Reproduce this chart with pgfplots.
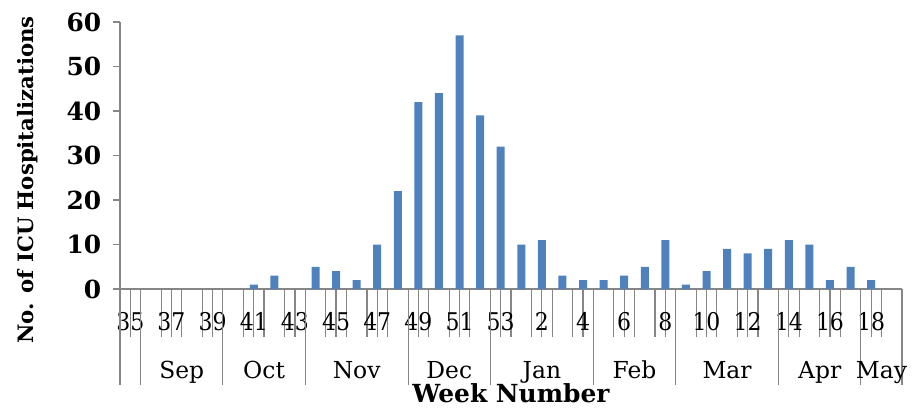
\documentclass[border=0pt]{standalone}
\usepackage{fontspec}
\setmainfont{DejaVu Serif Condensed}
\newfontfamily\wideserif{DejaVu Serif}
\usepackage{pgfplots}
\pgfplotsset{compat=1.18}
\usepackage{pgfplotstable}

\definecolor{barblue}{HTML}{4F81BD}
\definecolor{axisgray}{HTML}{868686}

% week index (0 = week 35), ICU hospitalizations
\pgfplotstableread{
idx val
0 0
1 0
2 0
3 0
4 0
5 0
6 1
7 3
8 0
9 5
10 4
11 2
12 10
13 22
14 42
15 44
16 57
17 39
18 32
19 10
20 11
21 3
22 2
23 2
24 3
25 5
26 11
27 1
28 4
29 9
30 8
31 9
32 11
33 10
34 2
35 5
36 2
37 0
}\icudata

\begin{document}
\begin{tikzpicture}
\useasboundingbox (0,0) rectangle (921bp,-408bp);
\begin{axis}[
  at={(120bp,-289bp)}, anchor=south west,
  scale only axis, width=782bp, height=267bp,
  xmin=-0.5, xmax=37.5, ymin=0, ymax=60,
  clip=false,
  axis x line=bottom, axis y line=left,
  axis line style={-, draw=axisgray, line width=1.2pt},
  tick style={draw=axisgray, line width=1.2pt},
  tick align=outside,
  /pgf/number format/assume math mode=true,
  xtick={-0.5,0.5,...,37.5},
  xticklabels={},
  xtick style={/pgfplots/major tick length=48bp},
  ytick={0,10,...,60},
  ytick style={/pgfplots/major tick length=7bp},
  yticklabel style={font=\wideserif\bfseries\fontsize{25}{25}\selectfont, xshift=-11bp},
  extra x ticks={0,2,...,36},
  extra x tick labels={35,37,39,41,43,45,47,49,51,53,2,4,6,8,10,12,14,16,18},
  extra x tick style={/pgfplots/major tick length=0pt,
    tick label style={font=\fontsize{24.5}{24.5}\selectfont, yshift=-20bp}},
  ybar, bar width=8bp,
]
\addplot[fill=barblue, draw=none] table[x=idx, y=val] {\icudata};

% month separators
\pgfplotsinvokeforeach{-0.5,0.5,4.5,8.5,13.5,17.5,22.5,26.5,31.5,35.5,37.5}{
  \draw[axisgray, line width=1.2pt] (axis cs:#1,0) -- ([yshift=-96bp]axis cs:#1,0);
}
% month names
\foreach \mx/\mn in {2.5/Sep,6.5/Oct,11/Nov,15.5/Dec,20/Jan,24.5/Feb,29/Mar,33.5/Apr,36.5/May}{
  \edef\tmp{\noexpand\node[anchor=base, font=\noexpand\wideserif\noexpand\fontsize{23.5}{23.5}\noexpand\selectfont, yshift=-89bp] at (axis cs:\mx,0) {\mn};}
  \tmp
}
\node[anchor=base, font=\wideserif\bfseries\fontsize{25}{25}\selectfont, yshift=-113bp]
  at (axis cs:18.5,0) {Week Number};
\end{axis}
\node[rotate=90, font=\wideserif\bfseries\fontsize{21.3}{21.3}\selectfont] at (28bp,-180bp) {No. of ICU Hospitalizations};
\end{tikzpicture}
\end{document}
